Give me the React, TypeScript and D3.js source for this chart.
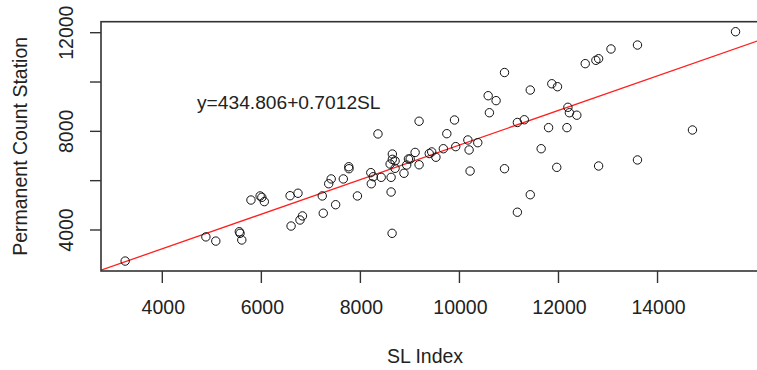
import React, { useEffect, useRef } from 'react';
import * as d3 from 'd3';

// SL Index (x) and Permanent Count Station (y)
const slIndex = [
  3250, 4880, 5080, 5555, 5570, 5605, 5790, 5975, 6010, 6060,
  6600, 6780, 6830, 6580, 6740, 7230, 7250, 7500, 7360, 7410,
  7655, 7765, 7770, 7940, 8210, 8260, 8220, 8420, 8620, 8620,
  8640, 8600, 8645, 8645, 8700, 8700, 8880, 8935, 8970, 9005,
  9105, 9185, 9185, 9390, 9440, 9525, 9675, 9925, 9900, 9745,
  10170, 10195, 10370, 10215, 10580, 10740, 10605, 10910, 10910, 11170,
  11310, 11170, 11430, 11430, 11650, 11800, 11865, 11980, 11965, 12170,
  12190, 12220, 12370, 12540, 12755, 12810, 13060, 13595, 15575, 14705,
  12810, 13595, 8355
];
const permanentCount = [
  2740, 3720, 3550, 3930, 3865, 3595, 5215, 5380, 5325, 5150,
  4160, 4405, 4570, 5390, 5490, 5380, 4680, 5025, 5875, 6070,
  6070, 6565, 6485, 5380, 6325, 6160, 5875, 6135, 6135, 5540,
  3865, 6675, 7080, 6865, 6800, 6500, 6300, 6635, 6880, 6880,
  7145, 6645, 8410, 7100, 7165, 6950, 7295, 7380, 8460, 7905,
  7650, 7245, 7540, 6390, 9445, 9245, 8755, 10385, 6485, 8360,
  8470, 4720, 9675, 5430, 7295, 8150, 9930, 9810, 6540, 8150,
  8975, 8755, 8655, 10745, 10880, 10945, 11340, 11500, 12040, 8055,
  6595, 6840, 7895
];

const xTicks = [4000, 6000, 8000, 10000, 12000, 14000];
const yTicks = [4000, 6000, 8000, 10000, 12000];
const yTickLabels = [4000, 8000, 12000];

const intercept = 434.806;
const slope = 0.7012;

const App = () => {
  const ref = useRef<SVGSVGElement | null>(null);

  useEffect(() => {
    const width = 757;
    const height = 370;
    const left = 101, right = 760, top = 21.7, bottom = 271;
    const font = 'Arial, "Liberation Sans", sans-serif';
    const ink = '#222';

    const x = d3.scaleLinear().domain([2762, 16069]).range([left, right]);
    const y = d3.scaleLinear().domain([2337, 12446]).range([bottom, top]);

    const svg = d3.select(ref.current);
    svg.selectAll('*').remove();
    svg.attr('width', width).attr('height', height);

    svg.append('defs').append('clipPath').attr('id', 'plotclip')
      .append('rect')
      .attr('x', left).attr('y', top)
      .attr('width', right - left).attr('height', bottom - top);

    // regression line
    const [x0, x1] = x.domain();
    svg.append('line')
      .attr('clip-path', 'url(#plotclip)')
      .attr('x1', x(x0)).attr('y1', y(intercept + slope * x0))
      .attr('x2', x(x1)).attr('y2', y(intercept + slope * x1))
      .attr('stroke', '#ff2020')
      .attr('stroke-width', 1.3);

    // points
    svg.append('g')
      .selectAll('circle')
      .data(slIndex.map((v, i) => [v, permanentCount[i]]))
      .join('circle')
      .attr('cx', d => x(d[0]))
      .attr('cy', d => y(d[1]))
      .attr('r', 4.2)
      .attr('fill', 'none')
      .attr('stroke', '#111')
      .attr('stroke-width', 1);

    // box
    svg.append('rect')
      .attr('x', left).attr('y', top)
      .attr('width', right - left).attr('height', bottom - top)
      .attr('fill', 'none')
      .attr('stroke', '#333')
      .attr('stroke-width', 1.6);

    // x axis
    const gx = svg.append('g');
    gx.selectAll('line')
      .data(xTicks)
      .join('line')
      .attr('x1', d => x(d)).attr('x2', d => x(d))
      .attr('y1', bottom).attr('y2', bottom + 12)
      .attr('stroke', '#333').attr('stroke-width', 1.4);
    gx.selectAll('text')
      .data(xTicks)
      .join('text')
      .attr('x', d => x(d) + 1)
      .attr('y', 314)
      .attr('text-anchor', 'middle')
      .style('font', `19.5px ${font}`)
      .attr('fill', ink)
      .text(d => String(d));

    // y axis
    const gy = svg.append('g');
    gy.selectAll('line')
      .data(yTicks)
      .join('line')
      .attr('x1', left - 11).attr('x2', left)
      .attr('y1', d => y(d)).attr('y2', d => y(d))
      .attr('stroke', '#333').attr('stroke-width', 1.4);
    gy.selectAll('text')
      .data(yTickLabels)
      .join('text')
      .attr('transform', d => `translate(73,${y(d)}) rotate(-90)`)
      .attr('text-anchor', 'middle')
      .style('font', `19.5px ${font}`)
      .attr('fill', ink)
      .text(d => String(d));

    // titles
    svg.append('text')
      .attr('x', 425).attr('y', 363)
      .attr('text-anchor', 'middle')
      .style('font', `19.5px ${font}`)
      .attr('fill', ink)
      .text('SL Index');

    svg.append('text')
      .attr('transform', `translate(27,${(top + bottom) / 2}) rotate(-90)`)
      .attr('text-anchor', 'middle')
      .style('font', `19.5px ${font}`)
      .attr('fill', ink)
      .text('Permanent Count Station');

    svg.append('text')
      .attr('x', 197).attr('y', 109)
      .style('font', `19.2px ${font}`)
      .attr('fill', ink)
      .text(`y=${intercept}+${slope}SL`);
  }, []);

  return (
    <svg ref={ref} style={{ position: 'absolute', left: 0, top: 0, background: '#fff' }} />
  );
};

export default App;
